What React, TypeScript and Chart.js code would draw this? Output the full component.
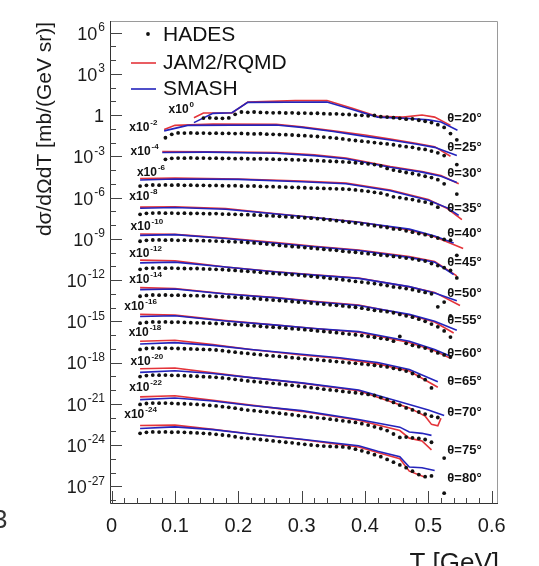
import React, { useEffect, useRef } from "react";
import { Chart, registerables } from "chart.js";

Chart.register(...registerables);

// ---- categories ----
const ANGLES = [20, 25, 30, 35, 40, 45, 50, 55, 60, 65, 70, 75, 80];
// displayed scale factor exponent (x10^n) of each angle
const SCALE_EXP = [0, -2, -4, -6, -8, -10, -12, -14, -16, -18, -20, -22, -24];

// kinetic energy grid of the HADES points [GeV]
const T_GRID = [
  0.045, 0.055, 0.065, 0.075, 0.085, 0.095, 0.105, 0.115, 0.125, 0.135, 0.145, 0.155, 0.165, 0.175, 0.185, 0.195,
  0.205, 0.215, 0.225, 0.235, 0.245, 0.255, 0.265, 0.275, 0.285, 0.295, 0.305, 0.315, 0.325, 0.335, 0.345, 0.355,
  0.365, 0.375, 0.385, 0.395, 0.405, 0.415, 0.425, 0.435, 0.445, 0.455, 0.465, 0.475, 0.485, 0.495, 0.505, 0.515,
  0.525, 0.535, 0.545,
];

// ---- HADES data: log10 of dσ/dΩdT (unscaled) on T_GRID ----
const n = null;
const hades20 = [n, n, n, n, n, n, n, n, n, n, -0.22, -0.2, -0.23, -0.24, -0.21, 0.05, 0.22, 0.2, 0.22, 0.19, 0.18, 0.16, 0.17, 0.15, 0.16, 0.13, 0.14, 0.12, 0.13, 0.1, 0.08, 0.09, 0.05, 0.04, 0.0, -0.02, -0.06, -0.03, -0.12, -0.15, -0.19, -0.24, -0.3, -0.28, -0.38, -0.45, -0.55, -0.7, -0.9, -1.35, -1.8];
const hades25 = [n, n, n, n, 0.35, 0.6, 0.7, 0.69, 0.7, 0.68, 0.69, 0.67, 0.68, 0.66, 0.67, 0.65, 0.66, 0.64, 0.63, 0.64, 0.61, 0.6, 0.58, 0.57, 0.55, 0.52, 0.5, 0.47, 0.44, 0.4, 0.36, 0.32, 0.26, 0.2, 0.15, 0.1, 0.05, 0.0, -0.06, -0.1, -0.16, -0.24, -0.3, -0.35, -0.45, -0.5, -0.62, -0.75, -0.95, n, -1.6];
const hades30 = [n, n, n, n, 0.78, 0.85, 0.87, 0.86, 0.88, 0.86, 0.87, 0.85, 0.86, 0.84, 0.85, 0.83, 0.84, 0.82, 0.81, 0.82, 0.8, 0.79, 0.77, 0.78, 0.75, 0.74, 0.72, 0.7, 0.68, 0.66, 0.64, 0.62, 0.6, 0.57, 0.53, 0.5, 0.45, 0.4, 0.3, 0.12, 0.0, -0.08, -0.18, -0.25, -0.35, -0.45, -0.55, -0.7, -1.0, n, -1.75];
const hades35 = [0.83, 0.89, 0.91, 0.9, 0.92, 0.9, 0.91, 0.89, 0.9, 0.88, 0.89, 0.87, 0.88, 0.86, 0.85, 0.86, 0.84, 0.83, 0.84, 0.81, 0.8, 0.79, 0.77, 0.76, 0.74, 0.73, 0.71, 0.69, 0.68, 0.66, 0.65, 0.63, 0.62, 0.6, 0.55, 0.5, 0.45, 0.38, 0.32, 0.2, 0.05, 0.0, -0.08, -0.15, -0.25, -0.33, -0.45, -0.7, n, n, n];
const hades40 = [0.78, 0.85, 0.87, 0.88, 0.86, 0.87, 0.85, 0.86, 0.84, 0.85, 0.83, 0.82, 0.83, 0.8, 0.79, 0.78, 0.76, 0.75, 0.73, 0.72, 0.68, 0.66, 0.63, 0.6, 0.58, 0.57, 0.53, 0.5, 0.46, 0.42, 0.37, 0.32, 0.27, 0.2, 0.15, 0.08, 0.02, -0.05, -0.12, -0.18, -0.28, -0.3, -0.42, -0.52, -0.62, -0.7, -0.82, -0.95, -1.05, -1.1, -2.2];
const hades45 = [0.82, 0.89, 0.91, 0.92, 0.9, 0.91, 0.89, 0.9, 0.88, 0.87, 0.86, 0.85, 0.83, 0.82, 0.8, 0.78, 0.76, 0.73, 0.7, 0.66, 0.62, 0.58, 0.52, 0.48, 0.44, 0.41, 0.36, 0.33, 0.28, 0.24, 0.2, 0.16, 0.1, 0.05, 0.02, -0.04, -0.08, -0.12, -0.18, -0.22, -0.28, -0.33, -0.4, -0.46, -0.55, -0.62, -0.8, -0.95, -1.1, -1.3, -1.85];
const hades50 = [0.78, 0.85, 0.87, 0.88, 0.86, 0.87, 0.85, 0.84, 0.83, 0.84, 0.81, 0.8, 0.78, 0.76, 0.73, 0.7, 0.66, 0.63, 0.6, 0.56, 0.52, 0.48, 0.45, 0.42, 0.4, 0.36, 0.31, 0.27, 0.22, 0.18, 0.12, 0.07, 0.02, -0.04, -0.1, -0.15, -0.2, -0.26, -0.33, -0.4, -0.5, -0.55, -0.62, -0.7, -0.8, -0.9, -1.0, -1.95, -1.6, -2.6, n];
const hades55 = [0.82, 0.88, 0.91, 0.9, 0.91, 0.89, 0.9, 0.88, 0.87, 0.86, 0.85, 0.83, 0.81, 0.8, 0.77, 0.74, 0.71, 0.68, 0.65, 0.62, 0.57, 0.54, 0.51, 0.48, 0.44, 0.4, 0.36, 0.33, 0.28, 0.25, 0.2, 0.16, 0.12, 0.06, 0.02, -0.05, -0.12, -0.2, -0.25, -0.3, -0.38, -0.5, -0.6, -0.7, -0.85, -1.0, -1.2, -1.4, -1.7, -2.15, n];
const hades60 = [0.86, 0.92, 0.95, 0.94, 0.95, 0.93, 0.94, 0.92, 0.9, 0.89, 0.88, 0.86, 0.84, 0.83, 0.8, 0.77, 0.74, 0.7, 0.67, 0.64, 0.6, 0.57, 0.54, 0.5, 0.46, 0.43, 0.39, 0.35, 0.3, 0.26, 0.22, 0.17, 0.12, 0.07, 0.02, -0.04, -0.1, -0.16, -0.24, -0.3, -0.45, -0.1, -0.6, -0.75, -0.85, -0.95, -1.15, -1.3, -1.45, -1.6, n];
const hades65 = [0.95, 1.02, 1.05, 1.04, 1.05, 1.03, 1.02, 1.0, 0.99, 0.97, 0.95, 0.94, 0.91, 0.86, 0.8, 0.75, 0.7, 0.66, 0.61, 0.57, 0.52, 0.48, 0.44, 0.4, 0.35, 0.31, 0.27, 0.23, 0.2, 0.15, 0.11, 0.07, 0.03, -0.02, -0.06, -0.1, -0.15, -0.2, -0.26, -0.32, -0.42, -0.5, -0.62, -0.8, -1.0, -1.25, -1.85, n, n, n, n];
const hades70 = [0.98, 1.05, 1.09, 1.08, 1.09, 1.07, 1.06, 1.04, 1.02, 1.0, 0.97, 0.95, 0.92, 0.88, 0.83, 0.78, 0.72, 0.66, 0.62, 0.58, 0.53, 0.49, 0.44, 0.39, 0.34, 0.29, 0.23, 0.17, 0.12, 0.06, 0.01, -0.04, -0.1, -0.15, -0.2, -0.26, -0.32, -0.4, -0.55, -0.7, -0.9, -1.1, -1.3, -1.45, -1.6, -1.75, -1.9, -2.0, n, n, n];
const hades75 = [0.95, 1.02, 1.05, 1.04, 1.05, 1.03, 1.01, 1.0, 0.98, 0.95, 0.92, 0.88, 0.84, 0.79, 0.74, 0.68, 0.6, 0.54, 0.5, 0.45, 0.4, 0.36, 0.31, 0.26, 0.2, 0.14, 0.08, 0.03, -0.02, -0.06, -0.12, -0.18, -0.24, -0.3, -0.36, -0.45, -0.55, -0.68, -0.8, -0.95, -1.2, -1.45, -1.42, -1.48, -1.52, -1.6, -1.8, n, -2.95, n, n];
const hades80 = [0.85, 0.92, 0.95, 0.94, 0.95, 0.93, 0.94, 0.92, 0.9, 0.88, 0.85, 0.82, 0.78, 0.73, 0.68, 0.6, 0.52, 0.48, 0.45, 0.4, 0.35, 0.3, 0.25, 0.2, 0.16, 0.1, 0.05, 0.0, -0.04, -0.08, -0.1, -0.12, -0.14, -0.2, -0.3, -0.42, -0.55, -0.7, -0.85, -1.05, -1.25, -1.45, -1.65, -1.9, -2.15, -2.3, -2.25, n, -3.5, n, n];
const HADES = [hades20, hades25, hades30, hades35, hades40, hades45, hades50, hades55, hades60, hades65, hades70, hades75, hades80];

// ---- JAM2/RQMD curves: [T, log10 value] ----
const jam20 = [[0.13, -0.2], [0.145, 0.15], [0.19, 0.15], [0.215, 0.95], [0.29, 1.05], [0.34, 1.05], [0.38, 0.5], [0.42, -0.1], [0.46, -0.15], [0.49, 0.0], [0.51, -0.15], [0.535, -0.75]];
const jam25 = [[0.083, 0.95], [0.1, 1.25], [0.16, 1.35], [0.26, 1.32], [0.3, 1.15], [0.35, 0.85], [0.4, 0.55], [0.44, 0.25], [0.48, -0.05], [0.51, -0.3], [0.535, -1.0]];
const jam30 = [[0.08, 1.35], [0.15, 1.33], [0.26, 1.27], [0.32, 1.1], [0.37, 0.87], [0.44, 0.25], [0.49, -0.1], [0.52, -0.4], [0.548, -1.0]];
const jam35 = [[0.045, 1.38], [0.1, 1.42], [0.2, 1.35], [0.3, 1.2], [0.37, 1.05], [0.44, 0.55], [0.5, -0.15], [0.53, -0.8], [0.553, -1.6]];
const jam40 = [[0.045, 1.3], [0.1, 1.33], [0.18, 1.2], [0.26, 0.82], [0.32, 0.55], [0.39, 0.22], [0.47, -0.36], [0.51, -0.85], [0.555, -1.7]];
const jam45 = [[0.045, 1.35], [0.1, 1.32], [0.18, 1.05], [0.26, 0.72], [0.32, 0.45], [0.39, 0.18], [0.47, -0.3], [0.51, -0.65], [0.545, -1.7]];
const jam50 = [[0.045, 1.45], [0.1, 1.4], [0.18, 0.95], [0.26, 0.6], [0.32, 0.38], [0.39, 0.15], [0.47, -0.5], [0.51, -0.9], [0.55, -1.85]];
const jam55 = [[0.045, 1.45], [0.1, 1.38], [0.18, 1.0], [0.26, 0.72], [0.32, 0.45], [0.39, 0.18], [0.47, -0.55], [0.51, -1.05], [0.54, -1.85]];
const jam60 = [[0.045, 1.5], [0.1, 1.45], [0.18, 1.05], [0.26, 0.72], [0.32, 0.48], [0.39, 0.2], [0.47, -0.55], [0.51, -1.15], [0.535, -1.7]];
const jam65 = [[0.045, 1.55], [0.1, 1.62], [0.16, 1.3], [0.22, 0.95], [0.3, 0.55], [0.36, 0.3], [0.42, -0.1], [0.47, -0.62], [0.515, -1.8]];
const jam70 = [[0.045, 1.55], [0.1, 1.6], [0.16, 1.25], [0.22, 0.9], [0.3, 0.5], [0.39, -0.05], [0.47, -1.3], [0.495, -1.9], [0.505, -2.5], [0.515, -2.6], [0.52, -2.05]];
const jam75 = [[0.045, 1.5], [0.1, 1.58], [0.16, 1.25], [0.22, 0.9], [0.3, 0.45], [0.39, -0.2], [0.455, -0.95], [0.47, -1.5], [0.49, -1.7], [0.505, -2.35]];
const jam80 = [[0.045, 1.42], [0.1, 1.45], [0.16, 1.15], [0.22, 0.8], [0.3, 0.4], [0.39, -0.15], [0.42, -0.55], [0.455, -1.0], [0.47, -1.9], [0.495, -2.35]];
const JAM = [jam20, jam25, jam30, jam35, jam40, jam45, jam50, jam55, jam60, jam65, jam70, jam75, jam80];

// ---- SMASH curves: [T, log10 value] ----
const smash20 = [[0.13, -0.55], [0.16, 0.12], [0.19, 0.17], [0.215, 0.92], [0.34, 0.95], [0.38, 0.4], [0.42, -0.15], [0.47, -0.25], [0.5, -0.35], [0.52, -0.5], [0.546, -1.1]];
const smash25 = [[0.083, 0.85], [0.12, 1.25], [0.26, 1.28], [0.3, 1.1], [0.35, 0.8], [0.4, 0.45], [0.44, 0.18], [0.48, -0.1], [0.51, -0.35], [0.545, -0.95]];
const smash30 = [[0.08, 1.28], [0.15, 1.3], [0.26, 1.22], [0.32, 1.05], [0.37, 0.82], [0.44, 0.2], [0.49, -0.15], [0.52, -0.45], [0.545, -0.9]];
const smash35 = [[0.045, 1.28], [0.1, 1.35], [0.2, 1.32], [0.3, 1.15], [0.37, 1.0], [0.44, 0.5], [0.5, -0.2], [0.53, -0.75], [0.548, -1.3]];
const smash40 = [[0.045, 1.22], [0.1, 1.28], [0.18, 1.15], [0.26, 0.8], [0.32, 0.55], [0.39, 0.2], [0.47, -0.3], [0.51, -0.8], [0.54, -1.3]];
const smash45 = [[0.045, 1.25], [0.1, 1.3], [0.18, 1.02], [0.26, 0.68], [0.32, 0.42], [0.39, 0.15], [0.47, -0.35], [0.51, -0.7], [0.54, -1.6]];
const smash50 = [[0.045, 1.25], [0.1, 1.3], [0.18, 0.95], [0.26, 0.58], [0.32, 0.36], [0.39, 0.12], [0.47, -0.48], [0.51, -0.95], [0.545, -1.5]];
const smash55 = [[0.045, 1.3], [0.1, 1.35], [0.18, 0.98], [0.26, 0.7], [0.32, 0.42], [0.39, 0.15], [0.47, -0.5], [0.51, -1.0], [0.545, -1.65]];
const smash60 = [[0.045, 1.35], [0.1, 1.4], [0.18, 1.02], [0.26, 0.72], [0.32, 0.48], [0.39, 0.25], [0.47, -0.45], [0.51, -1.05], [0.535, -1.55]];
const smash65 = [[0.045, 1.35], [0.1, 1.45], [0.16, 1.25], [0.22, 0.95], [0.3, 0.6], [0.36, 0.35], [0.42, 0.0], [0.47, -0.5], [0.515, -1.4]];
const smash70 = [[0.045, 1.28], [0.1, 1.4], [0.16, 1.2], [0.22, 0.9], [0.3, 0.52], [0.39, 0.0], [0.47, -1.05], [0.5, -1.45], [0.525, -1.85]];
const smash75 = [[0.045, 1.3], [0.1, 1.42], [0.16, 1.2], [0.22, 0.88], [0.3, 0.5], [0.39, -0.15], [0.455, -0.7], [0.47, -1.05], [0.49, -1.15], [0.505, -1.3]];
const smash80 = [[0.045, 1.2], [0.1, 1.32], [0.16, 1.12], [0.22, 0.8], [0.3, 0.42], [0.39, -0.05], [0.42, -0.45], [0.455, -0.85], [0.47, -1.6], [0.49, -1.65], [0.51, -1.85]];
const SMASH = [smash20, smash25, smash30, smash35, smash40, smash45, smash50, smash55, smash60, smash65, smash70, smash75, smash80];

// ---- axis tick labels ----
const X_TICKS = [0, 0.1, 0.2, 0.3, 0.4, 0.5, 0.6];
const X_TICK_LABELS = ["0", "0.1", "0.2", "0.3", "0.4", "0.5", "0.6"];
const Y_LABEL_EXPS = [6, 3, 0, -3, -6, -9, -12, -15, -18, -21, -24, -27];

// ---- annotation anchors (data coordinates: T, displayed log10) ----
const FACTOR_T = [0.09, 0.028, 0.03, 0.04, 0.028, 0.03, 0.028, 0.028, 0.02, 0.027, 0.03, 0.028, 0.02];
const FACTOR_LOG = [0.36, -0.95, -2.69, -4.22, -5.96, -8.15, -10.11, -12.0, -13.96, -15.85, -17.96, -19.85, -21.82];
const THETA_T = 0.53;
const THETA_LOG = [-0.22, -2.33, -4.22, -6.76, -8.58, -10.69, -12.95, -14.91, -17.31, -19.35, -21.6, -24.36, -26.4];

const RED = "rgb(228,52,58)";
const BLUE = "rgb(36,36,188)";
const FONT = "'Liberation Sans', Arial, Helvetica, sans-serif";

function supText(ctx: CanvasRenderingContext2D, base: string, sup: string, x: number, y: number, bf: string, sf: string, align: "left" | "right", supRise: number) {
  ctx.font = sf;
  const ws = ctx.measureText(sup).width;
  ctx.font = bf;
  const wb = ctx.measureText(base).width;
  const x0 = align === "right" ? x - ws - wb - 1 : x;
  ctx.textAlign = "left";
  ctx.textBaseline = "middle";
  ctx.fillText(base, x0, y);
  ctx.font = sf;
  ctx.fillText(sup, x0 + wb + 1, y - supRise);
}

const overlay = {
  id: "overlay",
  afterDraw(chart: any) {
    const { ctx, chartArea: a, scales } = chart;
    const xs = scales.x;
    const ys = scales.y;
    ctx.save();
    // frame
    ctx.lineWidth = 1;
    ctx.strokeStyle = "#9a9a9a";
    ctx.beginPath();
    ctx.moveTo(a.left, a.top + 0.5);
    ctx.lineTo(a.right - 0.5, a.top + 0.5);
    ctx.lineTo(a.right - 0.5, a.bottom);
    ctx.stroke();
    ctx.strokeStyle = "#333";
    ctx.beginPath();
    ctx.moveTo(a.left + 0.5, a.top);
    ctx.lineTo(a.left + 0.5, a.bottom - 0.5);
    ctx.lineTo(a.right, a.bottom - 0.5);
    ctx.stroke();

    // y ticks each decade
    ctx.strokeStyle = "#444";
    for (let e = -28; e <= 6; e++) {
      const y = Math.round(ys.getPixelForValue(Math.pow(10, e))) + 0.5;
      const len = e % 3 === 0 ? 12 : 6;
      ctx.beginPath();
      ctx.moveTo(a.left, y);
      ctx.lineTo(a.left + len, y);
      ctx.stroke();
    }
    // x ticks every 0.02
    for (let k = 0; k <= 30; k++) {
      const v = k * 0.02;
      const x = Math.round(xs.getPixelForValue(v)) + 0.5;
      const len = k % 5 === 0 ? 13 : 6;
      ctx.beginPath();
      ctx.moveTo(x, a.bottom);
      ctx.lineTo(x, a.bottom - len);
      ctx.stroke();
    }

    ctx.fillStyle = "#1b1b1b";
    // x tick labels
    ctx.font = `20px ${FONT}`;
    ctx.textAlign = "center";
    ctx.textBaseline = "middle";
    X_TICKS.forEach((v, i) => ctx.fillText(X_TICK_LABELS[i], xs.getPixelForValue(v), 526));
    // y tick labels
    Y_LABEL_EXPS.forEach((e) => {
      const y = ys.getPixelForValue(Math.pow(10, e)) + 2;
      if (e === 0) {
        ctx.font = `18px ${FONT}`;
        ctx.textAlign = "right";
        ctx.textBaseline = "middle";
        ctx.fillText("1", 104, y);
      } else {
        supText(ctx, "10", e < 0 ? "-" + -e : String(e), 105, y, `18px ${FONT}`, `12px ${FONT}`, "right", 7);
      }
    });

    // axis titles
    ctx.save();
    ctx.translate(45, 129);
    ctx.rotate(-Math.PI / 2);
    ctx.font = `21px ${FONT}`;
    ctx.textAlign = "center";
    ctx.textBaseline = "middle";
    ctx.fillText("dσ/dΩdT [mb/(GeV sr)]", 0, 0);
    ctx.restore();
    ctx.font = `26px ${FONT}`;
    ctx.textAlign = "right";
    ctx.textBaseline = "alphabetic";
    ctx.fillText("T [GeV]", 499, 571);
    ctx.fillStyle = "#333";
    ctx.textAlign = "left";
    ctx.fillText("3", -7, 528);

    // legend
    ctx.fillStyle = "#111";
    ctx.beginPath();
    ctx.arc(148, 34, 1.9, 0, Math.PI * 2);
    ctx.fill();
    ctx.lineWidth = 1.6;
    ctx.strokeStyle = RED;
    ctx.beginPath();
    ctx.moveTo(131, 63);
    ctx.lineTo(156, 63);
    ctx.stroke();
    ctx.strokeStyle = BLUE;
    ctx.beginPath();
    ctx.moveTo(131, 89);
    ctx.lineTo(156, 89);
    ctx.stroke();
    ctx.font = `21px ${FONT}`;
    ctx.textAlign = "left";
    ctx.textBaseline = "middle";
    ctx.fillText("HADES", 163, 35);
    ctx.fillText("JAM2/RQMD", 163, 63);
    ctx.fillText("SMASH", 163, 89);

    // scale factor labels and angle labels
    ctx.fillStyle = "#111";
    ANGLES.forEach((ang, i) => {
      const fx = xs.getPixelForValue(FACTOR_T[i]);
      const fy = ys.getPixelForValue(Math.pow(10, FACTOR_LOG[i]));
      supText(ctx, "x10", String(SCALE_EXP[i]), fx, fy, `bold 12px ${FONT}`, `bold 8px ${FONT}`, "left", 5);
      const tx = xs.getPixelForValue(THETA_T);
      const ty = ys.getPixelForValue(Math.pow(10, THETA_LOG[i]));
      ctx.font = `bold 13px ${FONT}`;
      ctx.textAlign = "left";
      ctx.textBaseline = "middle";
      ctx.fillText(`θ=${ang}°`, tx, ty);
    });
    ctx.restore();
  },
};

export default function App() {
  const ref = useRef<HTMLCanvasElement | null>(null);
  useEffect(() => {
    if (!ref.current) return;
    const datasets: any[] = [];
    ANGLES.forEach((ang, i) => {
      const f = SCALE_EXP[i];
      datasets.push({
        label: `JAM2/RQMD ${ang}`,
        data: JAM[i].map(([t, v]) => ({ x: t, y: Math.pow(10, v + f) })),
        showLine: true,
        borderColor: RED,
        borderWidth: 1.6,
        pointRadius: 0,
        tension: 0,
        order: 2,
      });
      datasets.push({
        label: `SMASH ${ang}`,
        data: SMASH[i].map(([t, v]) => ({ x: t, y: Math.pow(10, v + f) })),
        showLine: true,
        borderColor: BLUE,
        borderWidth: 1.6,
        pointRadius: 0,
        tension: 0,
        order: 1,
      });
      datasets.push({
        label: `HADES ${ang}`,
        data: T_GRID.map((t, k) => (HADES[i][k] == null ? null : { x: t, y: Math.pow(10, (HADES[i][k] as number) + f) })).filter((p) => p !== null),
        showLine: false,
        pointRadius: 1.9,
        pointBorderWidth: 0,
        pointBackgroundColor: "#111",
        order: 0,
      });
    });
    const chart = new Chart(ref.current, {
      type: "scatter",
      data: { datasets },
      options: {
        animation: false,
        responsive: true,
        maintainAspectRatio: false,
        layout: { padding: { top: 21, right: 41, bottom: 0, left: 0 } },
        plugins: { legend: { display: false }, tooltip: { enabled: false } },
        scales: {
          x: {
            type: "linear",
            min: -0.0025,
            max: 0.61,
            ticks: { display: false },
            grid: { display: false },
            border: { display: false },
            afterFit: (s: any) => {
              s.height = 62;
            },
          },
          y: {
            type: "logarithmic",
            min: Math.pow(10, -28.29),
            max: Math.pow(10, 6.84),
            ticks: { display: false },
            grid: { display: false },
            border: { display: false },
            afterFit: (s: any) => {
              s.width = 110;
            },
          },
        },
      },
      plugins: [overlay],
    } as any);
    return () => chart.destroy();
  }, []);
  return (
    <div style={{ position: "fixed", left: 0, top: 0, width: 539, height: 566, background: "#fff" }}>
      <canvas ref={ref} />
    </div>
  );
}
